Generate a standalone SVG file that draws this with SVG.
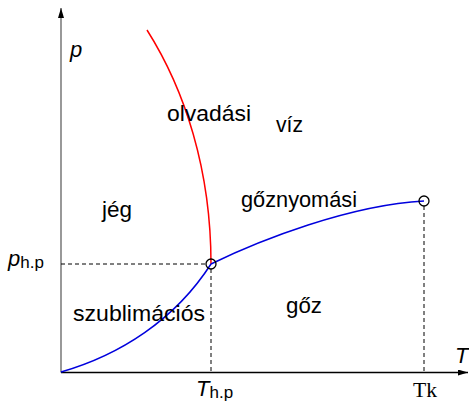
<svg xmlns="http://www.w3.org/2000/svg" width="469" height="404" viewBox="0 0 469 404">
<defs>
<style>
.t{font-family:"Liberation Sans",Arial,sans-serif;font-size:22px;fill:#000}
.i{font-style:italic}
.s{font-size:17px}
.serif{font-family:"Liberation Serif","Times New Roman",serif;font-size:20px;fill:#000}
.dash{stroke:#000;stroke-width:1;stroke-dasharray:4,3;fill:none}
.pt{fill:none;stroke:#000;stroke-width:1.3}
</style>
<marker id="ah" viewBox="0 0 10 6" refX="10" refY="3" markerWidth="10" markerHeight="6" markerUnits="userSpaceOnUse" orient="auto">
<path d="M0,0 L10,3 L0,6 Z" fill="#000"/>
</marker>
</defs>
<rect width="469" height="404" fill="#fff"/>
<g id="connectors">
<line x1="61" y1="372.5" x2="61" y2="8" stroke="#7f7f7f" stroke-width="1.6" marker-end="url(#ah)"/>
<line x1="61" y1="372.5" x2="468" y2="372.5" stroke="#000" stroke-width="1.5" marker-end="url(#ah)"/>
<path class="dash" d="M61,264 H206"/>
<path class="dash" d="M211,269 V372"/>
<path class="dash" d="M424,206 V372"/>
<path d="M147,30 C185,90 211,170 211,264" fill="none" stroke="#ff0000" stroke-width="1.5"/>
<path d="M61,372 C120,355 175,320 211,264" fill="none" stroke="#0000dd" stroke-width="1.5"/>
<path d="M211,264 C260,240 350,205 424,201" fill="none" stroke="#0000dd" stroke-width="1.5"/>
</g>
<g id="triple-point"><circle class="pt" cx="211" cy="264" r="5"/></g>
<g id="critical-point"><circle class="pt" cx="424" cy="201" r="5"/></g>
<g id="axis-p"><text class="t i" x="70" y="57">p</text></g>
<g id="axis-T"><text class="t i" x="455" y="363">T</text></g>
<g id="label-olvadasi"><text class="t" x="167" y="121" textLength="84" lengthAdjust="spacingAndGlyphs">olvadási</text></g>
<g id="label-viz"><text class="t" x="276" y="132" textLength="27" lengthAdjust="spacingAndGlyphs">víz</text></g>
<g id="label-jeg"><text class="t" x="102" y="217" textLength="30" lengthAdjust="spacingAndGlyphs">jég</text></g>
<g id="label-goznyomasi"><text class="t" x="241" y="207" textLength="116" lengthAdjust="spacingAndGlyphs">gőznyomási</text></g>
<g id="label-szublimacios"><text class="t" x="73" y="321" textLength="132" lengthAdjust="spacingAndGlyphs">szublimációs</text></g>
<g id="label-goz"><text class="t" x="286" y="313" textLength="36" lengthAdjust="spacingAndGlyphs">gőz</text></g>
<g id="label-php"><text class="t" x="8" y="266"><tspan class="i">p</tspan><tspan class="s" dy="2">h.p</tspan></text></g>
<g id="label-Thp"><text class="t" x="196" y="396"><tspan class="i">T</tspan><tspan class="s" dy="2">h.p</tspan></text></g>
<g id="label-Tk"><text class="serif" x="413" y="397" textLength="24" lengthAdjust="spacingAndGlyphs">Tk</text></g>
</svg>
